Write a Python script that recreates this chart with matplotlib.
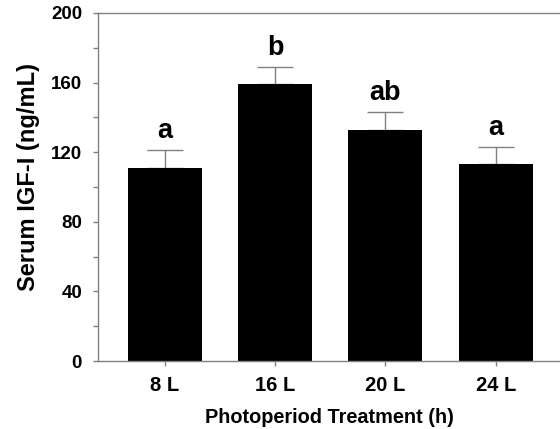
import matplotlib.pyplot as plt
from matplotlib.ticker import MultipleLocator

plt.rcParams['font.family'] = ['Liberation Sans', 'DejaVu Sans']
plt.rcParams['font.weight'] = 'bold'

treatments = ['8 L', '16 L', '20 L', '24 L']
igf_mean = [111, 159, 133, 113]
igf_se = [10, 10, 10, 10]
letters = ['a', 'b', 'ab', 'a']

fig = plt.figure(figsize=(5.6, 4.29), dpi=100)
ax = fig.add_axes([0.175, 0.1585, 0.825, 0.8112])

x = list(range(len(treatments)))
ax.bar(x, igf_mean, width=0.672, color='black', zorder=2)
ax.errorbar(x, igf_mean, yerr=[[0] * 4, igf_se], fmt='none', ecolor='#808080',
            elinewidth=1, capsize=13.2, capthick=1, zorder=1)

for xi, m, s, lab in zip(x, igf_mean, igf_se, letters):
    ax.text(xi, m + s + 7, lab, ha='center', va='baseline', fontsize=19.5, fontweight='bold')

ax.set_xlim(-0.608, 3.584)
ax.set_ylim(0, 200)
ax.yaxis.set_major_locator(MultipleLocator(40))
ax.yaxis.set_minor_locator(MultipleLocator(20))
ax.set_xticks(x)
ax.set_xticklabels(treatments)

for side in ['left', 'bottom', 'top']:
    ax.spines[side].set_color('#808080')
    ax.spines[side].set_linewidth(1)
ax.spines['right'].set_visible(False)

ax.tick_params(axis='both', which='both', direction='out', length=3.5, width=1,
               color='#808080')
ax.tick_params(axis='y', labelsize=13.5, pad=8)
ax.tick_params(axis='x', labelsize=14.5, pad=7)
ax.tick_params(top=False, right=False)

ax.set_xlabel('Photoperiod Treatment (h)', fontsize=14.3, fontweight='bold', labelpad=10)
ax.set_ylabel('Serum IGF-I (ng/mL)', fontsize=17, fontweight='bold', labelpad=8)
ax.yaxis.label.set_y(0.529)

fig.savefig('out.png', dpi=100)
